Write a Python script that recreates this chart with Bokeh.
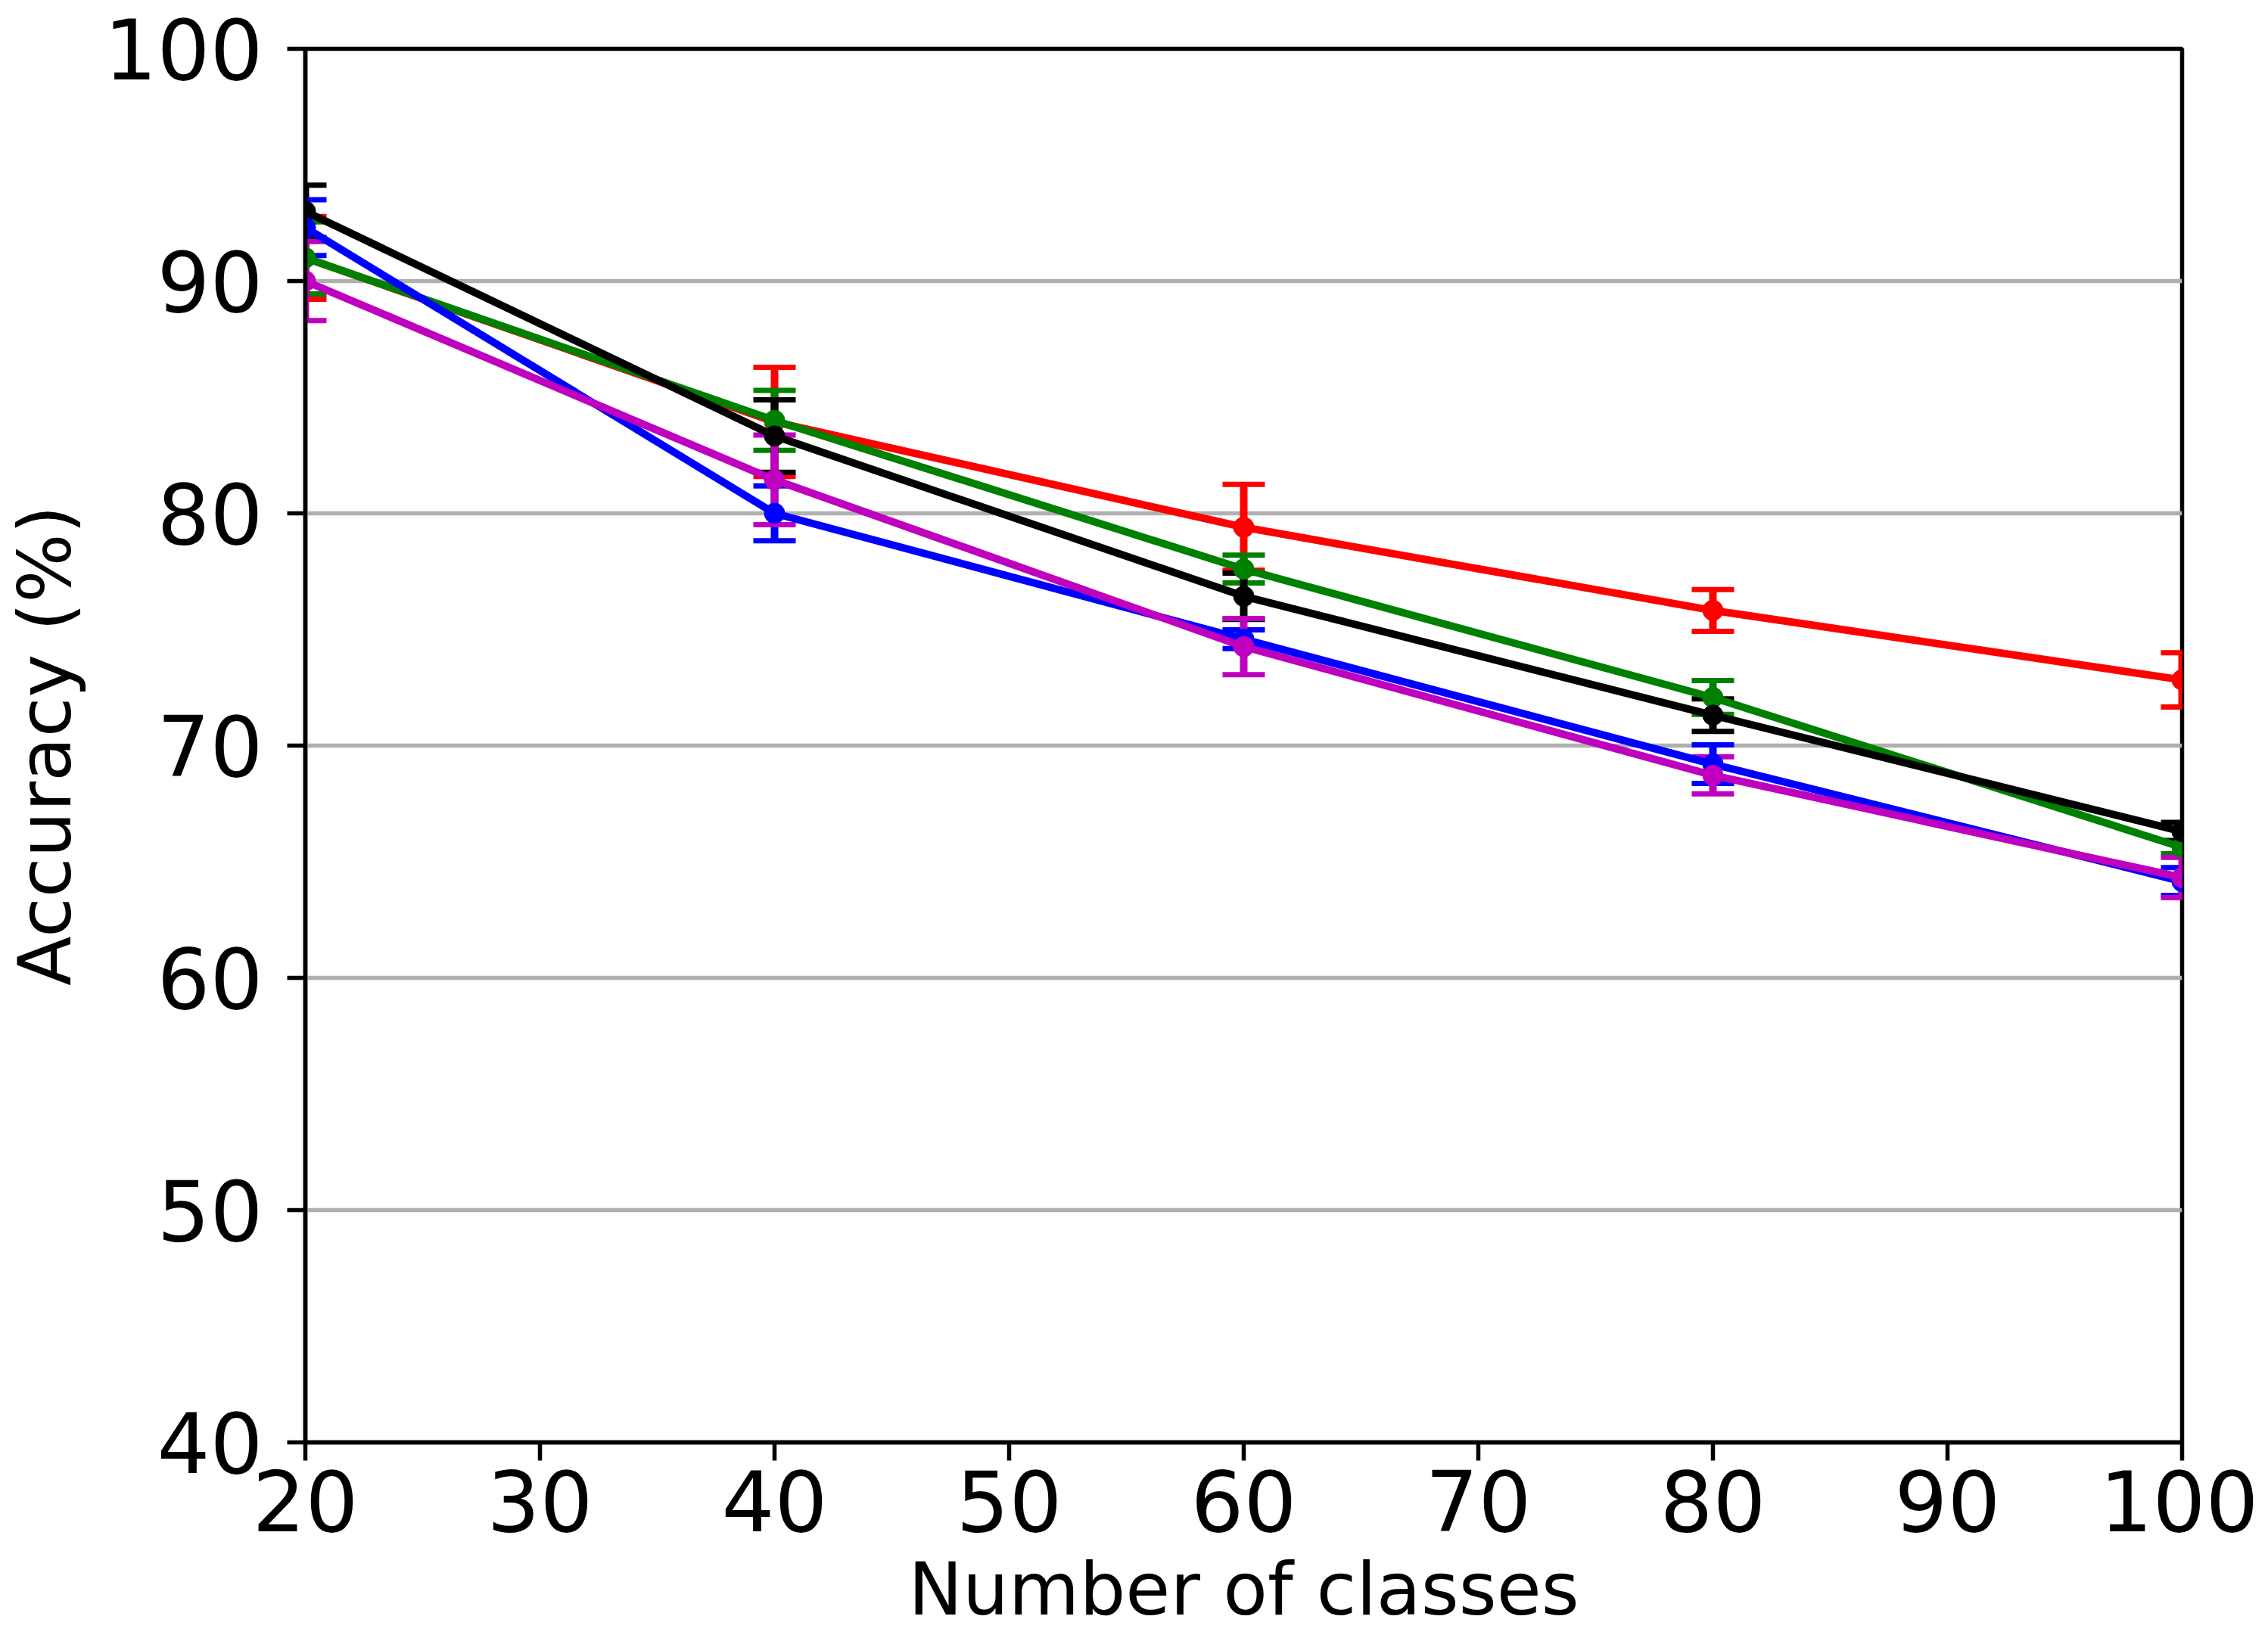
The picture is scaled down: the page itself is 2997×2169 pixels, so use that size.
from bokeh.plotting import figure
from bokeh.models import Range1d, FixedTicker, ColumnDataSource, Whisker, TeeHead
from bokeh.embed import file_html
from bokeh.resources import INLINE

# ---- data ----
classes = [20, 40, 60, 80, 100]
x_ticks = [20, 30, 40, 50, 60, 70, 80, 90, 100]
y_ticks = [40, 50, 60, 70, 80, 90, 100]

red_acc = [91.0, 83.94, 79.40, 75.82, 72.83]
red_err = [1.78, 2.35, 1.85, 0.90, 1.17]
green_acc = [91.0, 84.00, 77.60, 72.07, 65.62]
green_err = [1.55, 1.29, 0.60, 0.73, 0.28]
black_acc = [93.0, 83.33, 76.43, 71.31, 66.30]
black_err = [1.13, 1.56, 1.00, 0.70, 0.39]
blue_acc = [92.3, 80.00, 74.58, 69.20, 64.15]
blue_err = [1.20, 1.18, 0.40, 0.83, 0.60]
magenta_acc = [90.0, 81.44, 74.26, 68.72, 64.32]
magenta_err = [1.70, 1.93, 1.21, 0.80, 0.87]

series = [
    ("#ff0000", red_acc, red_err),
    ("#008000", green_acc, green_err),
    ("#000000", black_acc, black_err),
    ("#0000ff", blue_acc, blue_err),
    ("#bf00bf", magenta_acc, magenta_err),
]

FONT = "DejaVu Sans"
LW = 10
SPINE = 5.5

p = figure(
    frame_width=2480, frame_height=1842,
    x_range=Range1d(20, 100), y_range=Range1d(40, 100),
    output_backend="svg", toolbar_location=None,
    min_border_left=400, min_border_right=101,
    min_border_top=64, min_border_bottom=100,
    background_fill_color="white", border_fill_color="white",
)
p.outline_line_color = "black"
p.outline_line_width = SPINE
p.outline_line_alpha = 1.0

p.xgrid.visible = False
p.ygrid.grid_line_color = "#b0b0b0"
p.ygrid.grid_line_width = SPINE
p.ygrid.ticker = FixedTicker(ticks=y_ticks)

p.xaxis.ticker = FixedTicker(ticks=x_ticks)
p.yaxis.ticker = FixedTicker(ticks=y_ticks)
p.xaxis.axis_label = "Number of classes"
p.yaxis.axis_label = "Accuracy (%)"

for ax in (p.xaxis, p.yaxis):
    ax.axis_line_width = SPINE
    ax.axis_line_color = "black"
    ax.major_tick_line_width = SPINE
    ax.major_tick_line_color = "black"
    ax.major_tick_out = 24
    ax.major_tick_in = 0
    ax.minor_tick_line_color = None
    ax.major_label_text_font = FONT
    ax.major_label_text_font_size = "110px"
    ax.major_label_text_color = "black"
    ax.axis_label_text_font = FONT
    ax.axis_label_text_font_size = "96px"
    ax.axis_label_text_font_style = "normal"
    ax.axis_label_text_color = "black"

p.xaxis.major_label_standoff = 12
p.xaxis.axis_label_standoff = 18
p.yaxis.major_label_standoff = 32
p.yaxis.axis_label_standoff = 19

# error bars (drawn beneath all data lines, as in the reference)
for color, acc, err in series:
    src = ColumnDataSource(dict(
        x=classes,
        upper=[a + e for a, e in zip(acc, err)],
        lower=[a - e for a, e in zip(acc, err)],
    ))
    w = Whisker(
        base="x", upper="upper", lower="lower", source=src, dimension="height",
        line_color=color, line_width=LW, level="underlay",
        upper_head=TeeHead(size=56, line_width=7, line_color=color),
        lower_head=TeeHead(size=56, line_width=7, line_color=color),
    )
    p.add_layout(w)

for color, acc, err in series:
    p.line(classes, acc, line_color=color, line_width=LW)
    p.scatter(classes, acc, size=27, fill_color=color, line_color=color, line_width=1)

open("out.html", "w").write(file_html(p, INLINE))
